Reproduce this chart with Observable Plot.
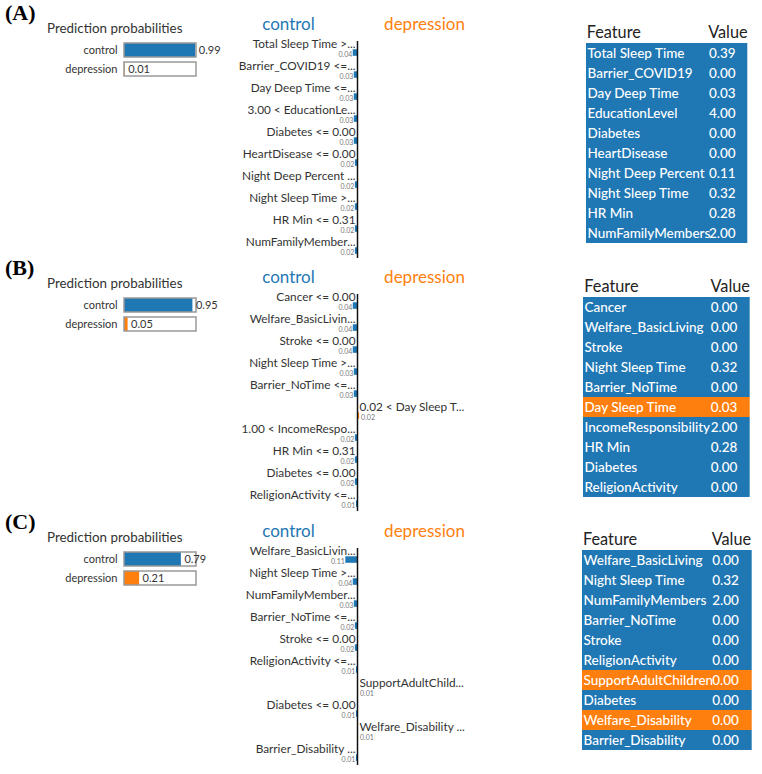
<!DOCTYPE html>
<html><head><meta charset="utf-8">
<script src="https://cdn.jsdelivr.net/npm/d3@7"></script>
<script src="https://cdn.jsdelivr.net/npm/@observablehq/plot@0.6"></script>
<style>
body{margin:0;background:#fff;}
#root{position:relative;width:762px;height:774px;overflow:hidden;font-family:Lato,sans-serif;}
#root svg{overflow:visible;}
</style></head><body><div id="root"></div>
<script>
// ---------- data ----------
const panelLetters = ["(A)", "(B)", "(C)"];
const classNames = ["control", "depression"];

const probsA = [0.99, 0.01];
const probsB = [0.95, 0.05];
const probsC = [0.79, 0.21];

// signed weights: negative = control side, positive = depression side
const limeLabelsA = ["Total Sleep Time >...", "Barrier_COVID19 <=...", "Day Deep Time <=...", "3.00 < EducationLe...", "Diabetes <= 0.00", "HeartDisease <= 0.00", "Night Deep Percent ...", "Night Sleep Time >...", "HR Min <= 0.31", "NumFamilyMember..."];
const limeWeightsA = [-0.04, -0.03, -0.03, -0.03, -0.03, -0.02, -0.02, -0.02, -0.02, -0.02];

const limeLabelsB = ["Cancer <= 0.00", "Welfare_BasicLivin...", "Stroke <= 0.00", "Night Sleep Time >...", "Barrier_NoTime <=...", "0.02 < Day Sleep T...", "1.00 < IncomeRespo...", "HR Min <= 0.31", "Diabetes <= 0.00", "ReligionActivity <=..."];
const limeWeightsB = [-0.04, -0.04, -0.04, -0.03, -0.03, 0.02, -0.02, -0.02, -0.02, -0.01];

const limeLabelsC = ["Welfare_BasicLivin...", "Night Sleep Time >...", "NumFamilyMember...", "Barrier_NoTime <=...", "Stroke <= 0.00", "ReligionActivity <=...", "SupportAdultChild...", "Diabetes <= 0.00", "Welfare_Disability ...", "Barrier_Disability ..."];
const limeWeightsC = [-0.11, -0.04, -0.03, -0.02, -0.02, -0.01, 0.01, -0.01, 0.01, -0.01];

const tableFeaturesA = ["Total Sleep Time", "Barrier_COVID19", "Day Deep Time", "EducationLevel", "Diabetes", "HeartDisease", "Night Deep Percent", "Night Sleep Time", "HR Min", "NumFamilyMembers"];
const tableValuesA = [0.39, 0.00, 0.03, 4.00, 0.00, 0.00, 0.11, 0.32, 0.28, 2.00];

const tableFeaturesB = ["Cancer", "Welfare_BasicLiving", "Stroke", "Night Sleep Time", "Barrier_NoTime", "Day Sleep Time", "IncomeResponsibility", "HR Min", "Diabetes", "ReligionActivity"];
const tableValuesB = [0.00, 0.00, 0.00, 0.32, 0.00, 0.03, 2.00, 0.28, 0.00, 0.00];

const tableFeaturesC = ["Welfare_BasicLiving", "Night Sleep Time", "NumFamilyMembers", "Barrier_NoTime", "Stroke", "ReligionActivity", "SupportAdultChildren", "Diabetes", "Welfare_Disability", "Barrier_Disability"];
const tableValuesC = [0.00, 0.32, 2.00, 0.00, 0.00, 0.00, 0.00, 0.00, 0.00, 0.00];

const maxProb = 1;

// ---------- styling / layout ----------
const BLUE = "#1f77b4", ORANGE = "#ff7f0e";
const FONT = "Lato, sans-serif";
const root = document.getElementById("root");

const panels = [
  {letter: panelLetters[0], probs: probsA, labels: limeLabelsA, weights: limeWeightsA, feats: tableFeaturesA, vals: tableValuesA,
   oyL: 0, oyM: 0, oyR: 0, tLeft: 585.7, tWidth: 161.3, vDx: 122.5},
  {letter: panelLetters[1], probs: probsB, labels: limeLabelsB, weights: limeWeightsB, feats: tableFeaturesB, vals: tableValuesB,
   oyL: 255, oyM: 253, oyR: 254, tLeft: 583.3, tWidth: 166.7, vDx: 127.2},
  {letter: panelLetters[2], probs: probsC, labels: limeLabelsC, weights: limeWeightsC, feats: tableFeaturesC, vals: tableValuesC,
   oyL: 509, oyM: 507, oyR: 507, tLeft: 582, tWidth: 169.7, vDx: 129.7}
];

function place(node, left, top) {
  node.style.position = "absolute";
  node.style.left = left + "px";
  node.style.top = top + "px";
  root.appendChild(node);
  return node;
}
function label(text, left, top, css) {
  const d = document.createElement("div");
  d.textContent = text;
  d.style.whiteSpace = "nowrap";
  Object.assign(d.style, css);
  return place(d, left, top);
}

for (const P of panels) {
  // panel letter
  label(P.letter, 5, P.oyL + 2, {font: "bold 22px 'Liberation Serif', serif", lineHeight: "22px", color: "#000"});
  // probabilities title
  label("Prediction probabilities", 47, P.oyL + 22, {font: "13.4px " + FONT, lineHeight: "13px", color: "#333"});

  const probData = classNames.map((c, i) => ({cls: c, p: P.probs[i]}));
  const probChart = Plot.plot({
    width: 240, height: 43, marginLeft: 124, marginRight: 44, marginTop: 0, marginBottom: 0,
    x: {domain: [0, maxProb], axis: null},
    y: {domain: classNames, padding: 0.263, axis: null},
    style: {fontFamily: FONT, background: "transparent", color: "#333"},
    marks: [
      Plot.axisY({tickSize: 0, tickPadding: 7, fontSize: 11, label: null}),
      Plot.barX(probData, {y: "cls", x: () => maxProb, fill: "white"}),
      Plot.barX(probData, {y: "cls", x: "p", fill: d => d.cls === "control" ? BLUE : ORANGE}),
      Plot.barX(probData, {y: "cls", x: () => maxProb, fill: "none", stroke: "#999", strokeWidth: 1.5}),
      Plot.text(probData, {y: "cls", x: "p", text: d => d.p.toFixed(2), textAnchor: "start", dx: 3, fontSize: 11, fill: "#333"})
    ]
  });
  place(probChart, 0, P.oyL + 38);

  // class headers
  label("control", 288.5, P.oyM + 15, {font: "17px " + FONT, lineHeight: "17px", color: BLUE, transform: "translateX(-50%)"});
  label("depression", 424.5, P.oyM + 15, {font: "17px " + FONT, lineHeight: "17px", color: ORANGE, transform: "translateX(-50%)"});

  // LIME weights chart
  const limeData = P.labels.map((l, i) => ({label: l, w: P.weights[i]}));
  const neg = limeData.filter(d => d.w < 0), pos = limeData.filter(d => d.w > 0);
  const limeChart = Plot.plot({
    width: 250, height: 262, marginTop: 41, marginBottom: 4, marginLeft: 0, marginRight: 0,
    x: {domain: [-1, 1], range: [127 - 106, 127 + 106], axis: null},
    y: {domain: P.labels, range: [34, 34 + 222.6], padding: 0, axis: null},
    style: {fontFamily: FONT, background: "transparent"},
    marks: [
      Plot.barX(limeData, {y: "label", x: "w", fill: d => d.w < 0 ? BLUE : ORANGE, insetTop: 14.3, insetBottom: 1.2}),
      Plot.ruleX([0], {stroke: "#111", strokeWidth: 1.5}),
      Plot.text(neg, {y: "label", x: () => 0, text: "label", textAnchor: "end", dx: -2, dy: -2.1, fontSize: 11.8, fill: "#333"}),
      Plot.text(pos, {y: "label", x: () => 0, text: "label", textAnchor: "start", dx: 2, dy: -2.1, fontSize: 11.8, fill: "#333"}),
      Plot.text(neg, {y: "label", x: "w", text: d => Math.abs(d.w).toFixed(2), textAnchor: "end", dx: -1, dy: 8.2, fontSize: 7, fill: "#777"}),
      Plot.text(pos, {y: "label", x: "w", text: d => Math.abs(d.w).toFixed(2), textAnchor: "start", dx: 1.5, dy: 8.2, fontSize: 7, fill: "#777"})
    ]
  });
  place(limeChart, 230, P.oyM);

  // table headers
  label("Feature", P.tLeft + 1, P.oyR + 23.5, {font: "16.3px " + FONT, lineHeight: "16px", color: "#222"});
  label("Value", P.tLeft + P.vDx, P.oyR + 23.5, {font: "16.3px " + FONT, lineHeight: "16px", color: "#222"});

  const tableData = P.feats.map((f, i) => ({feature: f, value: P.vals[i], color: P.weights[i] < 0 ? BLUE : ORANGE}));
  const tableChart = Plot.plot({
    width: P.tWidth, height: 201, margin: 0,
    x: {axis: null},
    y: {domain: P.feats, padding: 0, axis: null},
    color: {type: "identity"},
    style: {fontFamily: FONT, background: "transparent"},
    marks: [
      Plot.cell(tableData, {y: "feature", fill: "color"}),
      Plot.text(tableData, {y: "feature", text: "feature", frameAnchor: "left", dx: 1, fill: "white", fontSize: 13.5, fontWeight: 500}),
      Plot.text(tableData, {y: "feature", text: d => d.value.toFixed(2), frameAnchor: "left", dx: P.vDx, fill: "white", fontSize: 13.5, fontWeight: 500})
    ]
  });
  place(tableChart, P.tLeft, P.oyR + 41.7);
}
</script></body></html>
